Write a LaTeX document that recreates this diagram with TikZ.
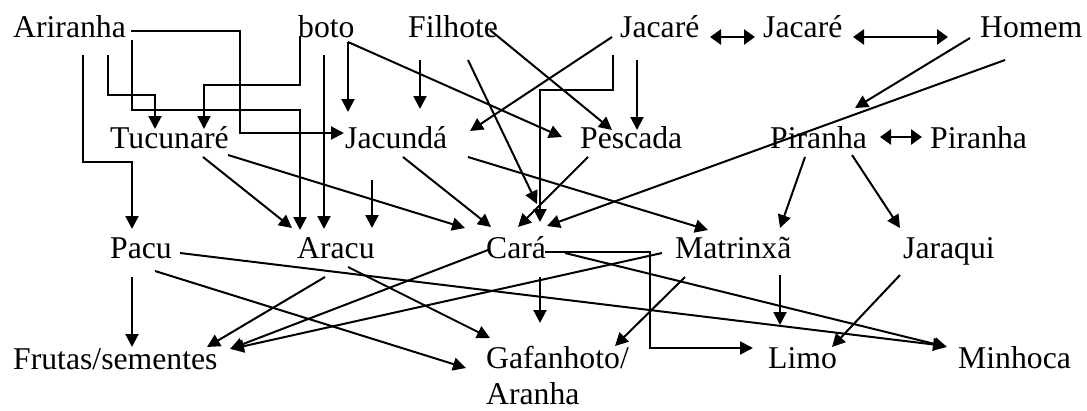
\documentclass[tikz,border=0pt]{standalone}
\usepackage{fontspec}
\setmainfont{Liberation Serif}
\usetikzlibrary{arrows.meta}
\begin{document}
\begin{tikzpicture}[x=1pt,y=-1pt,
  lbl/.style={anchor=base west,inner sep=0pt,font=\fontsize{31.7}{36}\selectfont},
  arr/.style={line width=2pt,-{Triangle[length=13pt,width=13pt]}},
  dbl/.style={line width=2.6pt,{Triangle[length=11pt,width=15pt]}-{Triangle[length=11pt,width=15pt]}}]
\useasboundingbox (0,0) rectangle (1087,410);
% row 1
\node[lbl] (ari)  at (13,37)  {Ariranha};
\node[lbl] (boto) at (298,37) {boto};
\node[lbl] (fil)  at (408,37) {Filhote};
\node[lbl] (jacA) at (620,37) {Jacaré};
\node[lbl] (jacB) at (763,37) {Jacaré};
\node[lbl] (hom)  at (980,37) {Homem};
% row 2
\node[lbl] (tuc)  at (110,148) {Tucunaré};
\node[lbl] (jcd)  at (345,148) {Jacundá};
\node[lbl] (pes)  at (580,148) {Pescada};
\node[lbl] (pirA) at (770,148) {Piranha};
\node[lbl] (pirB) at (930,148) {Piranha};
% row 3
\node[lbl] (pacu) at (110,258) {Pacu};
\node[lbl] (ara)  at (297,258) {Aracu};
\node[lbl] (cara) at (486,258) {Cará};
\node[lbl] (mat)  at (675,258) {Matrinxã};
\node[lbl] (jar)  at (903,258) {Jaraqui};
% row 4
\node[lbl] (fru)  at (13,369)  {Frutas/sementes};
\node[lbl] (gaf)  at (486,368) {\vtop{\baselineskip=36pt\hbox{Gafanhoto/}\hbox{Aranha}}};
\node[lbl] (lim)  at (768,368) {Limo};
\node[lbl] (minh) at (958,368) {Minhoca};
% Ariranha
\draw[arr] (131,31) -- (240,31) -- (240,133) -- (344,133);
\draw[arr] (108,55) -- (108,95) -- (155,95) -- (155,129);
\draw[arr] (132,40) -- (132,110) -- (300,110) -- (300,230);
\draw[arr] (83,55) -- (83,162) -- (132,162) -- (132,229);
% boto
\draw[arr] (300,36) -- (300,85) -- (204,85) -- (204,129);
\draw[arr] (324,55) -- (324,229);
\draw[arr] (348,42) -- (348,112);
\draw[arr] (348,42) -- (562,137);
% Filhote
\draw[arr] (420,60) -- (420,109);
\draw[arr] (490,30) -- (612,130);
\draw[arr] (468,60) -- (537,204);
% Jacare
\draw[arr] (612,37) -- (470,131);
\draw[arr] (613,55) -- (613,90) -- (540,90) -- (540,222);
\draw[arr] (637,60) -- (637,130);
\draw[dbl] (710,37) -- (755,37);
\draw[dbl] (853,37) -- (948,37);
% Homem
\draw[arr] (970,38) -- (855,108);
\draw[arr] (1005,60) -- (547,226);
% Piranha
\draw[dbl] (880,137) -- (922,137);
\draw[arr] (805,157) -- (780,228);
\draw[arr] (852,155) -- (900,228);
% Tucunare
\draw[arr] (203,157) -- (292,228);
\draw[arr] (228,155) -- (465,228);
% Jacunda
\draw[arr] (372,180) -- (372,228);
\draw[arr] (403,157) -- (491,227);
\draw[arr] (468,157) -- (708,230);
% Pescada
\draw[arr] (588,157) -- (518,227);
% Pacu
\draw[arr] (132,277) -- (132,347);
\draw[arr] (180,253) -- (946,346);
\draw[arr] (155,271) -- (466,368);
% Aracu
\draw[arr] (325,277) -- (207,347);
\draw[arr] (348,267) -- (490,338);
% Cara
\draw[arr] (488,250) -- (230,349);
\draw[arr] (545,252) -- (650,252) -- (650,348) -- (753,348);
\draw[arr] (540,277) -- (540,323);
\draw[arr] (565,253) -- (947,347);
% Matrinxa
\draw[arr] (662,253) -- (231,349);
\draw[arr] (685,277) -- (615,346);
\draw[arr] (780,275) -- (780,325);
% Jaraqui
\draw[arr] (900,275) -- (832,347);
\end{tikzpicture}
\end{document}
